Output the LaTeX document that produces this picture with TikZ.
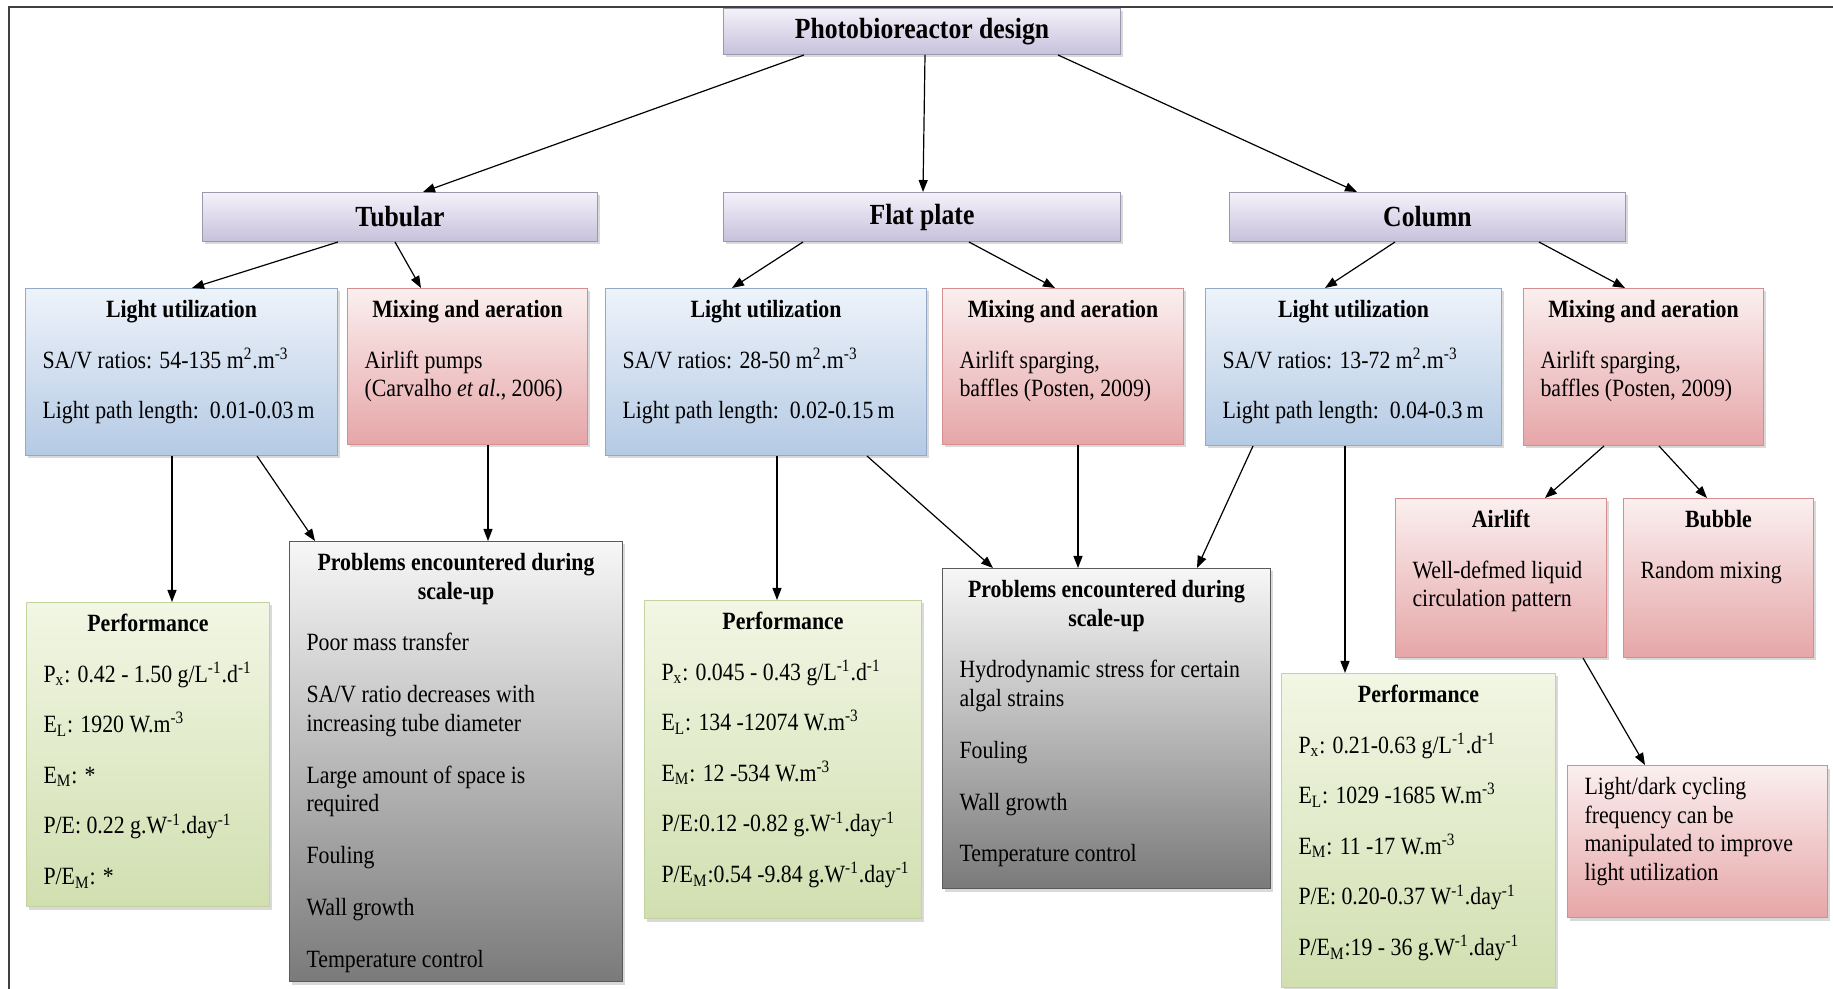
\documentclass[tikz,border=0pt]{standalone}
\usepackage{fontspec}
\setmainfont{Liberation Serif}[FakeStretch=0.88]
\usepackage{tikz}
\usetikzlibrary{arrows.meta,shadows}

\definecolor{lavtop}{HTML}{F4F2FA}
\definecolor{lavbot}{HTML}{C8C0DC}
\definecolor{lavline}{HTML}{9C98AC}
\definecolor{bluetop}{HTML}{EEF3FA}
\definecolor{bluebot}{HTML}{B4CAE4}
\definecolor{blueline}{HTML}{93A9C6}
\definecolor{pinktop}{HTML}{FBEFEF}
\definecolor{pinkbot}{HTML}{E6A6A8}
\definecolor{pinkline}{HTML}{D58E90}
\definecolor{greentop}{HTML}{F2F6E4}
\definecolor{greenbot}{HTML}{D1DFB0}
\definecolor{greenline}{HTML}{C2D3A0}
\definecolor{graytop}{HTML}{F7F7F7}
\definecolor{graybot}{HTML}{7A7A7A}
\definecolor{grayline}{HTML}{5A5A5A}

% text block of a box: [gap between lines], width, height, content
\newcommand{\cbox}[4][11pt]{\parbox[t][#3][t]{#2}{\fontsize{12.4}{14.3}\selectfont
  \setlength{\rightskip}{-30pt plus 1fil}\setlength{\parskip}{#1}%
  \rule{0pt}{14.5pt}#4}}

\tikzset{
  pbox/.style={draw, line width=0.5pt, anchor=north west, inner xsep=8.5pt, inner ysep=0pt,
    drop shadow={shadow xshift=1pt, shadow yshift=-1.5pt, opacity=0.3}},
  headbox/.style={pbox, draw=lavline, top color=lavtop, bottom color=lavbot,
    font=\fontsize{14.6}{17}\selectfont\bfseries},
  lightbox/.style={pbox, draw=blueline, top color=bluetop, bottom color=bluebot},
  mixbox/.style={pbox, draw=pinkline, top color=pinktop, bottom color=pinkbot},
  perfbox/.style={pbox, draw=greenline, top color=greentop, bottom color=greenbot},
  probbox/.style={pbox, draw=grayline, top color=graytop, bottom color=graybot},
}

\begin{document}
\begin{tikzpicture}[x=0.5pt, y=-0.5pt, >={Triangle[length=6pt,width=4.5pt]}, line width=0.6pt]
  \useasboundingbox (0,0) rectangle (1833,989);
  \draw[line width=0.9pt, black!75] (9,989) -- (9,7) -- (1833,7);

  % Top: design and the three types
  \node[headbox, minimum width=198.5pt, minimum height=23pt] (pbr) at (723,8) {Photobioreactor design};
  \node[headbox, minimum width=197.5pt, minimum height=24.5pt] (tub) at (202,192) {Tubular};
  \node[headbox, minimum width=198.5pt, minimum height=24.5pt] (flat) at (723,192) {Flat plate};
  \node[headbox, minimum width=198pt, minimum height=24.5pt] (col) at (1229,192) {Column};

  % Tubular
  \node[lightbox] (tubL) at (25,288) {\cbox{139pt}{83.5pt}{{\centering\bfseries Light utilization\par}
    SA/V ratios: 54-135 m\textsuperscript{2}.m\textsuperscript{-3}\par
    Light path length:\ \ 0.01-0.03\,m}};
  \node[mixbox] (tubM) at (347,288) {\cbox{103pt}{78pt}{{\centering\bfseries Mixing and aeration\par}
    Airlift pumps\\ (Carvalho \textit{et al}., 2006)}};
  \node[perfbox] (tubP) at (26,602) {\cbox{104.5pt}{152pt}{{\centering\bfseries Performance\par}
    P\textsubscript{x}: 0.42 - 1.50 g/L\textsuperscript{-1}.d\textsuperscript{-1}\par
    E\textsubscript{L}: 1920 W.m\textsuperscript{-3}\par
    E\textsubscript{M}: *\par
    P/E: 0.22 g.W\textsuperscript{-1}.day\textsuperscript{-1}\par
    P/E\textsubscript{M}: *}};
  \node[probbox] (tubQ) at (289,541) {\cbox[11.6pt]{149.5pt}{220pt}{{\centering\bfseries Problems encountered during\\ scale-up\par}
    Poor mass transfer\par
    SA/V ratio decreases with\\ increasing tube diameter\par
    Large amount of space is\\ required\par
    Fouling\par
    Wall growth\par
    Temperature control}};

  % Flat plate
  \node[lightbox] (flatL) at (605,288) {\cbox{143.5pt}{83.5pt}{{\centering\bfseries Light utilization\par}
    SA/V ratios: 28-50 m\textsuperscript{2}.m\textsuperscript{-3}\par
    Light path length:\ \ 0.02-0.15\,m}};
  \node[mixbox] (flatM) at (942,288) {\cbox{103.5pt}{78pt}{{\centering\bfseries Mixing and aeration\par}
    Airlift sparging,\\ baffles (Posten, 2009)}};
  \node[perfbox] (flatP) at (644,600) {\cbox{121.5pt}{159pt}{{\centering\bfseries Performance\par}
    P\textsubscript{x}: 0.045 - 0.43 g/L\textsuperscript{-1}.d\textsuperscript{-1}\par
    E\textsubscript{L}: 134 -12074 W.m\textsuperscript{-3}\par
    E\textsubscript{M}: 12 -534 W.m\textsuperscript{-3}\par
    P/E:0.12 -0.82 g.W\textsuperscript{-1}.day\textsuperscript{-1}\par
    P/E\textsubscript{M}:0.54 -9.84 g.W\textsuperscript{-1}.day\textsuperscript{-1}}};
  \node[probbox] (flatQ) at (942,568) {\cbox[11.6pt]{147pt}{160pt}{{\centering\bfseries Problems encountered during\\ scale-up\par}
    Hydrodynamic stress for certain\\ algal strains\par
    Fouling\par
    Wall growth\par
    Temperature control}};

  % Column
  \node[lightbox] (colL) at (1205,288) {\cbox{131pt}{78.5pt}{{\centering\bfseries Light utilization\par}
    SA/V ratios: 13-72 m\textsuperscript{2}.m\textsuperscript{-3}\par
    Light path length:\ \ 0.04-0.3\,m}};
  \node[mixbox] (colM) at (1523,288) {\cbox{103pt}{78.5pt}{{\centering\bfseries Mixing and aeration\par}
    Airlift sparging,\\ baffles (Posten, 2009)}};
  \node[mixbox] (colA) at (1395,498) {\cbox{88.5pt}{79.5pt}{{\centering\bfseries Airlift\par}
    Well-defmed liquid\\ circulation pattern}};
  \node[mixbox] (colB) at (1623,498) {\cbox{78pt}{79.5pt}{{\centering\bfseries Bubble\par}
    Random mixing}};
  \node[perfbox] (colP) at (1281,673) {\cbox{120pt}{157pt}{{\centering\bfseries Performance\par}
    P\textsubscript{x}: 0.21-0.63 g/L\textsuperscript{-1}.d\textsuperscript{-1}\par
    E\textsubscript{L}: 1029 -1685 W.m\textsuperscript{-3}\par
    E\textsubscript{M}: 11 -17 W.m\textsuperscript{-3}\par
    P/E: 0.20-0.37 W\textsuperscript{-1}.day\textsuperscript{-1}\par
    P/E\textsubscript{M}:19 - 36 g.W\textsuperscript{-1}.day\textsuperscript{-1}}};
  \node[mixbox] (colD) at (1567,765) {\cbox{113pt}{76pt}{Light/dark cycling\\ frequency can be\\
    manipulated to improve\\ light utilization}};

  % Arrows from the top
  \draw[->] ([xshift=40.5pt]pbr.south west) -- ([xshift=110.5pt]tub.north west);
  \draw[->] ([xshift=101pt]pbr.south west) -- ([xshift=100pt]flat.north west);
  \draw[->] ([xshift=167.5pt]pbr.south west) -- ([xshift=64pt]col.north west);

  \draw[->] ([xshift=68pt]tub.south west) -- ([xshift=83.5pt]tubL.north west);
  \draw[->] ([xshift=96.5pt]tub.south west) -- ([xshift=37pt]tubM.north west);
  \draw[->] ([xshift=40pt]flat.south west) -- ([xshift=63.5pt]flatL.north west);
  \draw[->] ([xshift=123pt]flat.south west) -- ([xshift=56.5pt]flatM.north west);
  \draw[->] ([xshift=83pt]col.south west) -- ([xshift=60pt]colL.north west);
  \draw[->] ([xshift=155pt]col.south west) -- ([xshift=51pt]colM.north west);

  % Lower arrows
  \draw[->] ([xshift=73.5pt]tubL.south west) -- ([xshift=73pt]tubP.north west);
  \draw[->] ([xshift=116pt]tubL.south west) -- ([xshift=13pt]tubQ.north west);
  \draw[->] ([xshift=70.5pt]tubM.south west) -- ([xshift=99.5pt]tubQ.north west);
  \draw[->] ([xshift=86pt]flatL.south west) -- ([xshift=66.5pt]flatP.north west);
  \draw[->] ([xshift=131pt]flatL.south west) -- ([xshift=25.5pt]flatQ.north west);
  \draw[->] ([xshift=68pt]flatM.south west) -- ([xshift=68pt]flatQ.north west);
  \draw[->] ([xshift=24pt]colL.south west) -- ([xshift=127.5pt]flatQ.north west);
  \draw[->] ([xshift=70pt]colL.south west) -- ([xshift=32pt]colP.north west);
  \draw[->] ([xshift=40.5pt]colM.south west) -- ([xshift=75pt]colA.north west);
  \draw[->] ([xshift=68pt]colM.south west) -- ([xshift=42pt]colB.north west);
  \draw[->] ([xshift=94pt]colA.south west) -- ([xshift=39pt]colD.north west);
\end{tikzpicture}
\end{document}
